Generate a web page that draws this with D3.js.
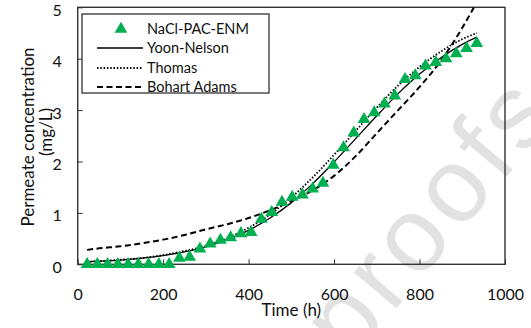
<!DOCTYPE html>
<html lang="en">
<head>
<meta charset="utf-8">
<title>Permeate concentration vs time</title>
<script src="https://cdn.jsdelivr.net/npm/d3@7"></script>
<style>
  body { margin: 0; background: #fff; }
  text { font-family: Lato, "Open Sans", sans-serif; fill: #111; }
</style>
</head>
<body>
<script>
/* observed points (NaCl-PAC-ENM) */
var timeObs = [22, 46, 70, 94, 118, 142, 166, 190, 214, 238, 262, 286, 310, 334, 358, 382, 406,
               430, 454, 478, 502, 526, 550, 574, 598, 622, 646, 670, 694, 718, 742, 766, 790,
               814, 838, 862, 886, 910, 934];
var concObs = [0, 0, 0, 0, 0, 0, 0, 0, 0, 0.12, 0.14, 0.30, 0.40, 0.47, 0.52, 0.60, 0.62,
               0.88, 1.01, 1.21, 1.31, 1.35, 1.47, 1.58, 1.93, 2.27, 2.56, 2.82, 2.95, 3.12, 3.28, 3.60, 3.67,
               3.86, 3.93, 4.00, 4.10, 4.20, 4.30];

/* model curves */
var modelTime  = [22, 50, 100, 150, 200, 250, 300, 350, 400, 450, 500, 550, 600, 650, 700, 750, 800, 850, 900, 934];
var yoonNelson = [0.05, 0.06, 0.08, 0.12, 0.17, 0.24, 0.34, 0.48, 0.66, 0.90, 1.20, 1.57, 1.99, 2.44, 2.89, 3.32, 3.70, 4.02, 4.28, 4.42];
var thomas     = [0.05, 0.06, 0.09, 0.12, 0.18, 0.26, 0.36, 0.51, 0.71, 0.97, 1.30, 1.69, 2.13, 2.59, 3.05, 3.48, 3.84, 4.14, 4.38, 4.50];
var bohartAdams = [0.28, 0.31, 0.35, 0.41, 0.48, 0.57, 0.68, 0.78, 0.90, 1.05, 1.23, 1.44, 1.72, 2.10, 2.55, 3.00, 3.45, 3.96, 4.60, 5.10];

var xTicks = [0, 200, 400, 600, 800, 1000];
var yTicks = [0, 1, 2, 3, 4, 5];
var seriesNames = ["NaCl-PAC-ENM", "Yoon-Nelson", "Thomas", "Bohart Adams"];

var W = 531, H = 328;
var pLeft = 77.7, pRight = 505, pTop = 7.3, pBottom = 264.3;

var svg = d3.select("body").append("svg")
  .attr("width", W)
  .attr("height", H);

/* watermark behind everything */
svg.append("text")
  .attr("transform", "translate(561,112) rotate(-50)")
  .attr("text-anchor", "end")
  .style("font-family", "'Liberation Sans', Arial, sans-serif")
  .style("font-size", "105px")
  .style("letter-spacing", "6px")
  .style("fill", "#e2e2e2")
  .text("Journal Pre-proofs");

var x = d3.scaleLinear().domain([0, 1000]).range([pLeft, pRight]);
var y = d3.scaleLinear().domain([0, 5]).range([pBottom, pTop]);

/* axes, ticks pointing inside */
var xAxis = svg.append("g")
  .attr("transform", "translate(0," + pBottom + ")")
  .call(d3.axisBottom(x).tickValues(xTicks).tickFormat(d3.format("d"))
    .tickSizeInner(-5).tickSizeOuter(0).tickPadding(24));
var yAxis = svg.append("g")
  .attr("transform", "translate(" + pLeft + ",0)")
  .call(d3.axisLeft(y).tickValues(yTicks).tickFormat(d3.format("d"))
    .tickSizeInner(-5).tickSizeOuter(0).tickPadding(16));

[xAxis, yAxis].forEach(function(g) {
  g.select(".domain").remove();
  g.selectAll("line").attr("stroke", "#333").attr("stroke-width", 1);
  g.selectAll("text").style("font-size", "16px").style("font-family", "Lato, sans-serif").attr("fill", "#111");
});
yAxis.selectAll("text").attr("dy", "0.5em");

/* frame */
svg.append("rect")
  .attr("x", pLeft).attr("y", pTop)
  .attr("width", pRight - pLeft).attr("height", pBottom - pTop)
  .attr("fill", "none").attr("stroke", "#333").attr("stroke-width", 1.4);

svg.append("clipPath").attr("id", "plotclip")
  .append("rect")
  .attr("x", pLeft).attr("y", pTop)
  .attr("width", pRight - pLeft).attr("height", pBottom - pTop);

var line = d3.line()
  .x(function(d) { return x(d[0]); })
  .y(function(d) { return y(d[1]); })
  .curve(d3.curveMonotoneX);

var plot = svg.append("g").attr("clip-path", "url(#plotclip)");

var models = [
  { vals: yoonNelson, width: 1.3, dash: null },
  { vals: thomas, width: 1.8, dash: "1.5,1.8" },
  { vals: bohartAdams, width: 2, dash: "6,3.5" }
];
models.forEach(function(m) {
  plot.append("path")
    .datum(d3.zip(modelTime, m.vals))
    .attr("d", line)
    .attr("fill", "none")
    .attr("stroke", "#000")
    .attr("stroke-width", m.width)
    .attr("stroke-dasharray", m.dash);
});

var tri = d3.symbol().type(d3.symbolTriangle).size(70);
svg.append("g").selectAll("path")
  .data(d3.zip(timeObs, concObs))
  .enter().append("path")
  .attr("d", tri)
  .attr("transform", function(d) { return "translate(" + x(d[0]) + "," + y(d[1]) + ")"; })
  .attr("fill", "#00b050");

/* legend */
var legend = svg.append("g");
legend.append("rect")
  .attr("x", 82).attr("y", 14).attr("width", 187).attr("height", 79)
  .attr("fill", "#fff").attr("stroke", "#222").attr("stroke-width", 1.2);
var legY = [29, 48, 68, 87];
legend.append("path")
  .attr("d", tri)
  .attr("transform", "translate(121," + legY[0] + ")")
  .attr("fill", "#00b050");
models.forEach(function(m, i) {
  legend.append("line")
    .attr("x1", 97).attr("x2", 143)
    .attr("y1", legY[i + 1]).attr("y2", legY[i + 1])
    .attr("stroke", "#000")
    .attr("stroke-width", m.width)
    .attr("stroke-dasharray", m.dash);
});
seriesNames.forEach(function(s, i) {
  legend.append("text")
    .attr("x", 147).attr("y", legY[i])
    .attr("dy", "0.36em")
    .style("font-size", "14.5px")
    .text(s);
});

/* axis titles */
svg.append("text")
  .attr("x", (pLeft + pRight) / 2).attr("y", 316)
  .attr("text-anchor", "middle")
  .style("font-size", "17px")
  .text("Time (h)");
var yt = svg.append("text")
  .attr("transform", "translate(34,137) rotate(-90)")
  .attr("text-anchor", "middle")
  .style("font-size", "17px");
yt.append("tspan").attr("x", 0).attr("y", 0).text("Permeate concentration");
yt.append("tspan").attr("x", 5).attr("y", 18).text("(mg/L)");
</script>
</body>
</html>
